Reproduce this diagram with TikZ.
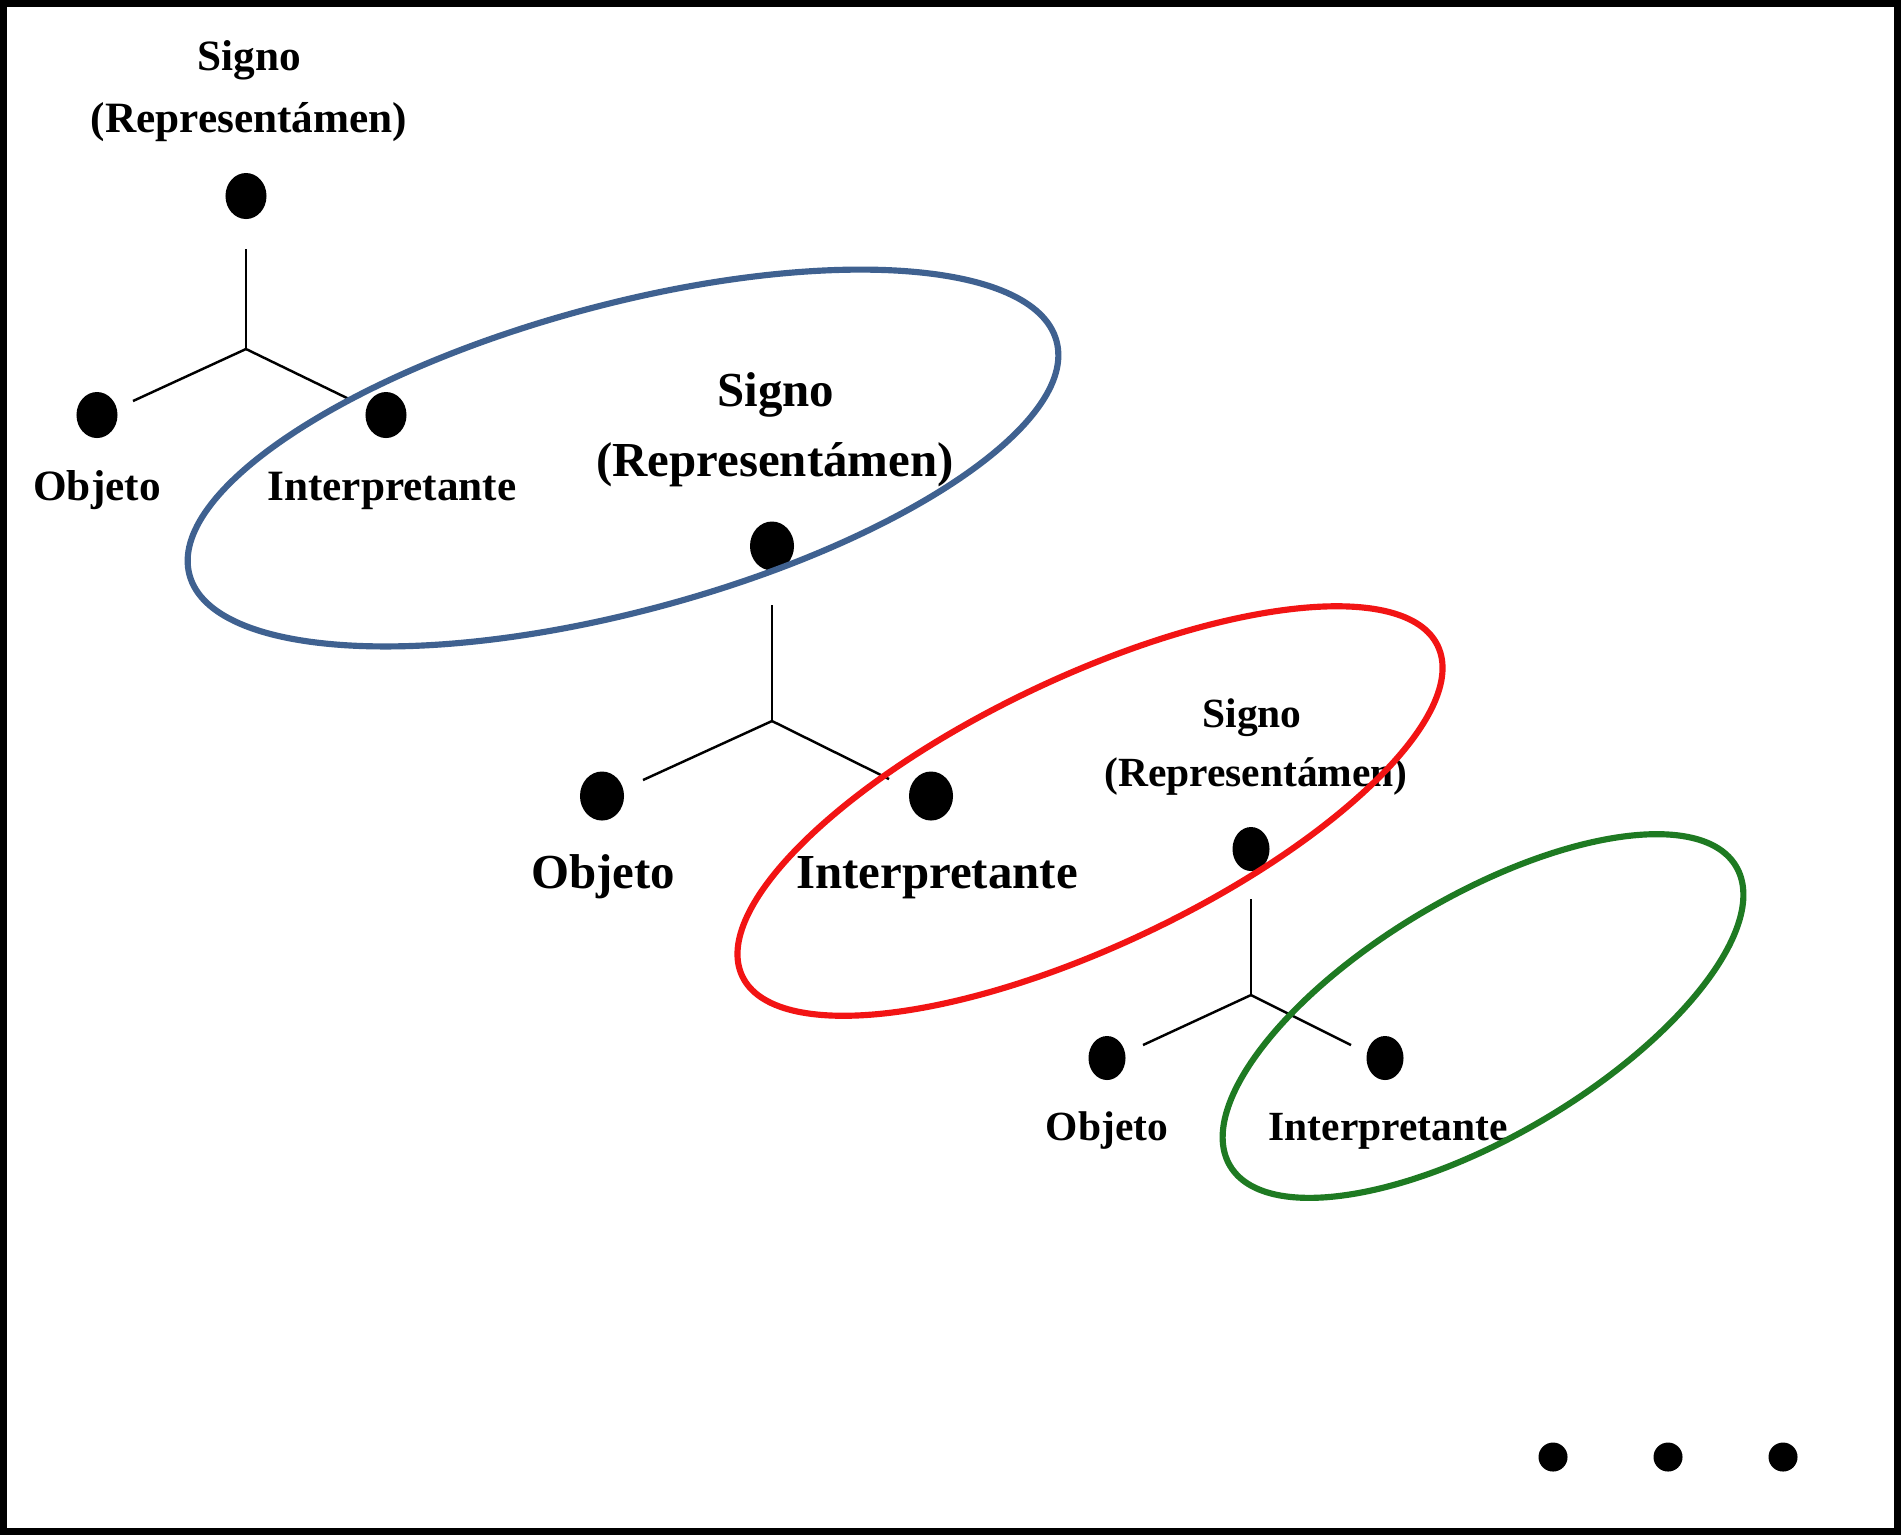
\documentclass[tikz,border=0pt]{standalone}
\usepackage{fontspec}
\setmainfont{Liberation Serif}
\usetikzlibrary{shapes.geometric}
\definecolor{ellblue}{HTML}{3F6190}
\definecolor{ellred}{HTML}{F21414}
\definecolor{ellgreen}{HTML}{1E7A22}
\tikzset{
  dotA/.style={shape=ellipse, fill=black, inner sep=0pt, minimum width=0.41cm, minimum height=0.46cm},
  dotB/.style={shape=ellipse, fill=black, inner sep=0pt, minimum width=0.44cm, minimum height=0.49cm},
  dotC/.style={shape=ellipse, fill=black, inner sep=0pt, minimum width=0.37cm, minimum height=0.44cm},
  endot/.style={shape=circle, fill=black, inner sep=0pt, minimum size=0.29cm},
  lblA/.style={anchor=base, inner sep=0pt, font=\bfseries\fontsize{12.3}{14}\selectfont},
  lblB/.style={anchor=base, inner sep=0pt, font=\bfseries\fontsize{13.9}{16}\selectfont},
  lblC/.style={anchor=base, inner sep=0pt, font=\bfseries\fontsize{11.8}{14}\selectfont},
  branch/.style={draw=black, line width=0.7pt},
  ring/.style={line width=1.75pt},
}
\begin{document}
\begin{tikzpicture}[x=0.01cm, y=-0.01cm]
\useasboundingbox (0,0) rectangle (1901,1535);
\fill[white] (0,0) rectangle (1901,1535);

% ---- Triad 1 ----
\node[lblA] (s1) at (249,70) {Signo};
\node[lblA] (r1) at (249,132) {(Representámen)};
\node[dotA] (d1s) at (246,196) {};
\coordinate (j1t) at (246,249);
\coordinate (j1) at (246,349);
\coordinate (j1l) at (133,401);
\coordinate (j1r) at (349,399);
\node[dotA] (d1o) at (97,415) {};
\node[dotA] (d1i) at (386,415) {};
\node[lblA] (o1) at (97,500) {Objeto};
\node[lblA] (i1) at (392,500) {Interpretante};
\draw[branch] (j1t) -- (j1);
\draw[branch] (j1) -- (j1l);
\draw[branch] (j1) -- (j1r);

% ---- Triad 2 ----
\node[lblB] (s2) at (776,406) {Signo};
\node[lblB] (r2) at (775,476) {(Representámen)};
\node[dotB] (d2s) at (772,546) {};
\coordinate (j2t) at (772,605);
\coordinate (j2) at (772,721);
\coordinate (j2l) at (643,780);
\coordinate (j2r) at (889,779);
\node[dotB] (d2o) at (602,796) {};
\node[dotB] (d2i) at (931,796) {};
\node[lblB] (o2) at (603,888) {Objeto};
\node[lblB] (i2) at (937,888) {Interpretante};
\draw[branch] (j2t) -- (j2);
\draw[branch] (j2) -- (j2l);
\draw[branch] (j2) -- (j2r);

% ---- Triad 3 ----
\node[lblC] (s3) at (1252,727) {Signo};
\node[lblC] (r3) at (1256,786) {(Representámen)};
\node[dotC] (d3s) at (1251,849) {};
\coordinate (j3t) at (1251,899);
\coordinate (j3) at (1251,995);
\coordinate (j3l) at (1143,1045);
\coordinate (j3r) at (1351,1045);
\node[dotC] (d3o) at (1107,1058) {};
\node[dotC] (d3i) at (1385,1058) {};
\node[lblC] (o3) at (1107,1140) {Objeto};
\node[lblC] (i3) at (1388,1140) {Interpretante};
\draw[branch] (j3t) -- (j3);
\draw[branch] (j3) -- (j3l);
\draw[branch] (j3) -- (j3r);

% ---- Ellipses ----
\draw[ring, draw=ellblue, rotate around={15.1:(623,458)}] (623,458) ellipse [x radius=449, y radius=153];
\draw[ring, draw=ellred, rotate around={25.4:(1090,811)}] (1090,811) ellipse [x radius=385, y radius=134];
\draw[ring, draw=ellgreen, rotate around={30.6:(1483,1016)}] (1483,1016) ellipse [x radius=294, y radius=120];

% ---- trailing dots ----
\node[endot] (e1) at (1553,1457) {};
\node[endot] (e2) at (1668,1457) {};
\node[endot] (e3) at (1783,1457) {};

% ---- frame ----
\draw[line width=0.07cm] (3.5,3.5) rectangle (1897.5,1531.5);
\end{tikzpicture}
\end{document}
